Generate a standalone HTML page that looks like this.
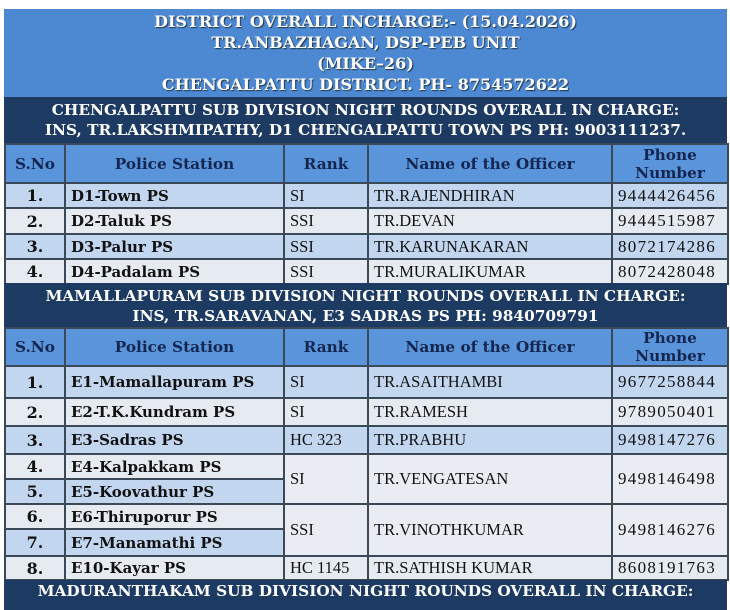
<!DOCTYPE html>
<html><head><meta charset="utf-8"><style>
body{margin:0;width:730px;height:591px;background:#fff;overflow:hidden;font-family:"Liberation Serif",serif;position:relative}
.b{position:absolute;box-sizing:border-box;font-family:"DejaVu Serif",serif}
.title{left:4px;top:9px;width:723px;height:88px;background:#4d89d3;color:#fff;font-weight:bold;font-size:16px;text-align:center;line-height:21px;padding-top:2px;text-shadow:1px 1px 1px #234}
.band{left:4px;width:723px;background:#1d3a62;color:#fff;font-weight:bold;font-size:15.3px;text-align:center;line-height:20px;padding-top:3px;white-space:nowrap}
table{position:absolute;left:4px;border-collapse:collapse;table-layout:fixed;width:723px}
td{border:2px solid #3b4856;padding:0 5px;font-size:16.5px;color:#111;white-space:nowrap;overflow:hidden}
tr.h td{background:#5a95db;color:#142650;font-weight:bold;text-align:center;line-height:18px;font-family:"DejaVu Serif",serif;font-size:15.3px}
tr.o td{background:#c3d6ef}
tr.e td{background:#e6ebf2}
td.n{text-align:center;font-weight:bold;font-size:16px;font-family:"DejaVu Serif",serif}
td.s{font-weight:bold;font-size:15px;font-family:"DejaVu Serif",serif}
td.p{letter-spacing:1.3px;font-size:17px}
td.w{background:#e9edf3 !important}
</style></head><body>
<div class="b title">DISTRICT OVERALL INCHARGE:- (15.04.2026)<br>TR.ANBAZHAGAN, DSP-PEB UNIT<br>(MIKE–26)<br>CHENGALPATTU DISTRICT. PH- 8754572622</div>
<div class="b band" style="top:97px;height:46px">CHENGALPATTU SUB DIVISION NIGHT ROUNDS OVERALL IN CHARGE:<br>INS, TR.LAKSHMIPATHY, D1 CHENGALPATTU TOWN PS PH: 9003111237.</div>
<table style="top:143px">
<colgroup><col style="width:60px"><col style="width:219px"><col style="width:84px"><col style="width:244px"><col style="width:116px"></colgroup>
<tr class="h" style="height:39px"><td>S.No</td><td>Police Station</td><td>Rank</td><td>Name of the Officer</td><td>Phone<br>Number</td></tr>
<tr class="o" style="height:25px"><td class="n">1.</td><td class="s">D1-Town PS</td><td>SI</td><td>TR.RAJENDHIRAN</td><td class="p">9444426456</td></tr>
<tr class="e" style="height:26px"><td class="n">2.</td><td class="s">D2-Taluk PS</td><td>SSI</td><td>TR.DEVAN</td><td class="p">9444515987</td></tr>
<tr class="o" style="height:25px"><td class="n">3.</td><td class="s">D3-Palur PS</td><td>SSI</td><td>TR.KARUNAKARAN</td><td class="p">8072174286</td></tr>
<tr class="e" style="height:25px"><td class="n">4.</td><td class="s">D4-Padalam PS</td><td>SSI</td><td>TR.MURALIKUMAR</td><td class="p">8072428048</td></tr>
</table>
<div class="b band" style="top:283px;height:44px">MAMALLAPURAM SUB DIVISION NIGHT ROUNDS OVERALL IN CHARGE:<br>INS, TR.SARAVANAN, E3 SADRAS PS PH: 9840709791</div>
<table style="top:327px">
<colgroup><col style="width:60px"><col style="width:219px"><col style="width:84px"><col style="width:244px"><col style="width:116px"></colgroup>
<tr class="h" style="height:38px"><td>S.No</td><td>Police Station</td><td>Rank</td><td>Name of the Officer</td><td>Phone<br>Number</td></tr>
<tr class="o" style="height:32px"><td class="n">1.</td><td class="s">E1-Mamallapuram PS</td><td>SI</td><td>TR.ASAITHAMBI</td><td class="p">9677258844</td></tr>
<tr class="e" style="height:28px"><td class="n">2.</td><td class="s">E2-T.K.Kundram PS</td><td>SI</td><td>TR.RAMESH</td><td class="p">9789050401</td></tr>
<tr class="o" style="height:28px"><td class="n">3.</td><td class="s">E3-Sadras PS</td><td>HC 323</td><td>TR.PRABHU</td><td class="p">9498147276</td></tr>
<tr class="e" style="height:25px"><td class="n">4.</td><td class="s">E4-Kalpakkam PS</td><td rowspan="2" class="w">SI</td><td rowspan="2" class="w">TR.VENGATESAN</td><td rowspan="2" class="w p">9498146498</td></tr>
<tr class="o" style="height:25px"><td class="n">5.</td><td class="s">E5-Koovathur PS</td></tr>
<tr class="e" style="height:25px"><td class="n">6.</td><td class="s">E6-Thiruporur PS</td><td rowspan="2" class="w">SSI</td><td rowspan="2" class="w">TR.VINOTHKUMAR</td><td rowspan="2" class="w p">9498146276</td></tr>
<tr class="o" style="height:27px"><td class="n">7.</td><td class="s">E7-Manamathi PS</td></tr>
<tr class="e" style="height:24px"><td class="n">8.</td><td class="s">E10-Kayar PS</td><td>HC 1145</td><td>TR.SATHISH KUMAR</td><td class="p">8608191763</td></tr>
</table>
<div class="b band" style="top:580px;height:30px;padding-top:1px">MADURANTHAKAM SUB DIVISION NIGHT ROUNDS OVERALL IN CHARGE:</div>
</body></html>
